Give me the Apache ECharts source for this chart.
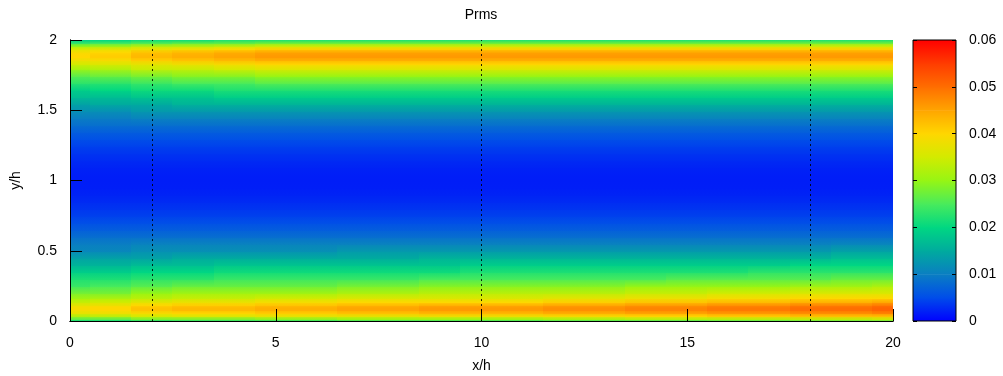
<!DOCTYPE html>
<html>
<head>
<meta charset="utf-8">
<script src="https://cdn.jsdelivr.net/npm/echarts@6/dist/echarts.min.js"></script>
<style>html,body{margin:0;padding:0;background:#fff;}#chart{width:1003px;height:376px;}</style>
</head>
<body>
<div id="chart"></div>
<script>
// ---- data ----
const xStations = [0, 1, 2, 3, 4, 5, 6, 7, 8, 9, 10, 11, 12, 13, 14, 15, 16, 17, 18, 19, 20];
const yLevelsLow  = [0, 0.02, 0.04, 0.06, 0.08, 0.10, 0.12, 0.14, 0.17, 0.20, 0.25, 0.30, 0.35, 0.40, 0.45];
const yLevelsCore = [0.50, 0.55, 0.60, 0.65, 0.70, 0.75, 0.80, 0.85, 0.90, 0.95, 1.00, 1.05, 1.10, 1.15, 1.20, 1.25, 1.30, 1.35, 1.40, 1.45, 1.50];
const yLevelsHigh = [1.55, 1.60, 1.65, 1.70, 1.75, 1.80, 1.83, 1.86, 1.88, 1.90, 1.92, 1.94, 1.96, 1.98, 2.00];

// Prms near the lower wall: one row per yLevelsLow, one value per x station
const prmsLow = [
  [0.020,0.020,0.021,0.022,0.022,0.022,0.022,0.023,0.023,0.023,0.023,0.023,0.024,0.024,0.024,0.024,0.025,0.025,0.026,0.026,0.026],
  [0.026,0.026,0.028,0.028,0.028,0.029,0.029,0.030,0.030,0.030,0.030,0.030,0.031,0.031,0.032,0.032,0.032,0.032,0.033,0.033,0.034],
  [0.032,0.033,0.035,0.036,0.036,0.037,0.037,0.037,0.037,0.038,0.038,0.038,0.039,0.039,0.040,0.040,0.041,0.041,0.042,0.042,0.042],
  [0.037,0.038,0.039,0.040,0.040,0.041,0.041,0.042,0.042,0.043,0.043,0.043,0.044,0.044,0.045,0.045,0.046,0.046,0.047,0.047,0.048],
  [0.039,0.040,0.042,0.043,0.043,0.044,0.044,0.045,0.045,0.046,0.046,0.046,0.047,0.047,0.048,0.048,0.049,0.049,0.050,0.050,0.051],
  [0.039,0.040,0.042,0.043,0.043,0.044,0.044,0.045,0.045,0.046,0.046,0.046,0.047,0.047,0.048,0.048,0.049,0.049,0.050,0.050,0.051],
  [0.037,0.038,0.040,0.041,0.041,0.042,0.042,0.043,0.043,0.044,0.044,0.044,0.045,0.045,0.046,0.046,0.047,0.047,0.048,0.048,0.049],
  [0.034,0.035,0.037,0.038,0.038,0.039,0.039,0.040,0.040,0.040,0.040,0.040,0.041,0.041,0.042,0.042,0.043,0.043,0.044,0.044,0.045],
  [0.031,0.032,0.033,0.034,0.034,0.035,0.035,0.036,0.036,0.036,0.036,0.036,0.037,0.037,0.038,0.038,0.039,0.039,0.040,0.040,0.040],
  [0.028,0.028,0.030,0.031,0.031,0.031,0.031,0.032,0.032,0.033,0.033,0.033,0.033,0.033,0.034,0.034,0.035,0.035,0.036,0.036,0.036],
  [0.024,0.025,0.026,0.027,0.027,0.027,0.027,0.028,0.028,0.029,0.029,0.029,0.029,0.029,0.030,0.030,0.030,0.030,0.031,0.031,0.032],
  [0.022,0.022,0.023,0.023,0.024,0.024,0.024,0.024,0.024,0.025,0.025,0.025,0.025,0.025,0.025,0.026,0.026,0.026,0.026,0.027,0.027],
  [0.019,0.019,0.020,0.020,0.021,0.021,0.021,0.021,0.021,0.021,0.022,0.022,0.022,0.022,0.022,0.022,0.022,0.023,0.023,0.023,0.023],
  [0.016,0.016,0.017,0.017,0.018,0.018,0.018,0.018,0.018,0.018,0.019,0.019,0.019,0.019,0.019,0.019,0.019,0.019,0.020,0.020,0.020],
  [0.014,0.014,0.014,0.015,0.015,0.015,0.015,0.015,0.015,0.016,0.016,0.016,0.016,0.016,0.016,0.016,0.016,0.016,0.016,0.017,0.017]
];
// Prms in the channel core: one row per yLevelsCore
const prmsCore = [
  [0.011,0.011,0.012,0.012,0.012,0.012,0.012,0.013,0.013,0.013,0.013,0.013,0.013,0.013,0.013,0.013,0.013,0.013,0.013,0.014,0.014],
  [0.0100,0.0100,0.0105,0.0105,0.0105,0.0105,0.0105,0.0105,0.0105,0.0105,0.0105,0.0105,0.0105,0.0105,0.0105,0.0105,0.0105,0.0105,0.0105,0.0110,0.0110],
  [0.0085,0.0085,0.0085,0.0085,0.0085,0.0085,0.0085,0.0085,0.0085,0.0085,0.0085,0.0085,0.0085,0.0085,0.0085,0.0085,0.0085,0.0085,0.0085,0.0085,0.0085],
  [0.0068,0.0068,0.0068,0.0068,0.0068,0.0068,0.0068,0.0068,0.0068,0.0068,0.0068,0.0068,0.0068,0.0068,0.0068,0.0068,0.0068,0.0068,0.0068,0.0068,0.0068],
  [0.0054,0.0054,0.0054,0.0054,0.0054,0.0054,0.0054,0.0054,0.0054,0.0054,0.0054,0.0054,0.0054,0.0054,0.0054,0.0054,0.0054,0.0054,0.0054,0.0054,0.0054],
  [0.0043,0.0043,0.0043,0.0043,0.0043,0.0043,0.0043,0.0043,0.0043,0.0043,0.0043,0.0043,0.0043,0.0043,0.0043,0.0043,0.0043,0.0043,0.0043,0.0043,0.0043],
  [0.0035,0.0035,0.0035,0.0035,0.0035,0.0035,0.0035,0.0035,0.0035,0.0035,0.0035,0.0035,0.0035,0.0035,0.0035,0.0035,0.0035,0.0035,0.0035,0.0035,0.0035],
  [0.0028,0.0028,0.0028,0.0028,0.0028,0.0028,0.0028,0.0028,0.0028,0.0028,0.0028,0.0028,0.0028,0.0028,0.0028,0.0028,0.0028,0.0028,0.0028,0.0028,0.0028],
  [0.0023,0.0023,0.0023,0.0023,0.0023,0.0023,0.0023,0.0023,0.0023,0.0023,0.0023,0.0023,0.0023,0.0023,0.0023,0.0023,0.0023,0.0023,0.0023,0.0023,0.0023],
  [0.0020,0.0020,0.0020,0.0020,0.0020,0.0020,0.0020,0.0020,0.0020,0.0020,0.0020,0.0020,0.0020,0.0020,0.0020,0.0020,0.0020,0.0020,0.0020,0.0020,0.0020],
  [0.0019,0.0019,0.0019,0.0019,0.0019,0.0019,0.0019,0.0019,0.0019,0.0019,0.0019,0.0019,0.0019,0.0019,0.0019,0.0019,0.0019,0.0019,0.0019,0.0019,0.0019],
  [0.0020,0.0020,0.0020,0.0020,0.0020,0.0020,0.0020,0.0020,0.0020,0.0020,0.0020,0.0020,0.0020,0.0020,0.0020,0.0020,0.0020,0.0020,0.0020,0.0020,0.0020],
  [0.0023,0.0023,0.0023,0.0023,0.0023,0.0023,0.0023,0.0023,0.0023,0.0023,0.0023,0.0023,0.0023,0.0023,0.0023,0.0023,0.0023,0.0023,0.0023,0.0023,0.0023],
  [0.0028,0.0028,0.0028,0.0028,0.0028,0.0028,0.0028,0.0028,0.0028,0.0028,0.0028,0.0028,0.0028,0.0028,0.0028,0.0028,0.0028,0.0028,0.0028,0.0028,0.0028],
  [0.0035,0.0035,0.0035,0.0035,0.0035,0.0035,0.0035,0.0035,0.0035,0.0035,0.0035,0.0035,0.0035,0.0035,0.0035,0.0035,0.0035,0.0035,0.0035,0.0035,0.0035],
  [0.0043,0.0043,0.0043,0.0043,0.0043,0.0043,0.0043,0.0043,0.0043,0.0043,0.0043,0.0043,0.0043,0.0043,0.0043,0.0043,0.0043,0.0043,0.0043,0.0043,0.0043],
  [0.0054,0.0054,0.0054,0.0054,0.0054,0.0054,0.0054,0.0054,0.0054,0.0054,0.0054,0.0054,0.0054,0.0054,0.0054,0.0054,0.0054,0.0054,0.0054,0.0054,0.0054],
  [0.0068,0.0068,0.0068,0.0068,0.0068,0.0068,0.0068,0.0068,0.0068,0.0068,0.0068,0.0068,0.0068,0.0068,0.0068,0.0068,0.0068,0.0068,0.0068,0.0068,0.0068],
  [0.0085,0.0085,0.0085,0.0085,0.0085,0.0085,0.0085,0.0085,0.0085,0.0085,0.0085,0.0085,0.0085,0.0085,0.0085,0.0085,0.0085,0.0085,0.0085,0.0085,0.0085],
  [0.0100,0.0100,0.0105,0.0105,0.0105,0.0105,0.0105,0.0105,0.0105,0.0105,0.0105,0.0105,0.0105,0.0105,0.0105,0.0105,0.0105,0.0105,0.0105,0.0105,0.0105],
  [0.012,0.012,0.013,0.013,0.013,0.013,0.013,0.013,0.013,0.013,0.013,0.013,0.013,0.013,0.013,0.013,0.013,0.013,0.013,0.013,0.013]
];
// Prms near the upper wall: one row per yLevelsHigh
const prmsHigh = [
  [0.014,0.015,0.015,0.016,0.016,0.016,0.016,0.016,0.016,0.016,0.016,0.016,0.016,0.016,0.016,0.016,0.016,0.016,0.016,0.016,0.016],
  [0.017,0.017,0.018,0.018,0.019,0.019,0.019,0.019,0.019,0.019,0.019,0.019,0.019,0.019,0.019,0.019,0.019,0.019,0.019,0.019,0.019],
  [0.019,0.020,0.021,0.021,0.022,0.022,0.022,0.022,0.022,0.022,0.022,0.022,0.022,0.022,0.022,0.022,0.022,0.022,0.022,0.022,0.022],
  [0.023,0.023,0.024,0.025,0.025,0.026,0.026,0.026,0.026,0.026,0.026,0.026,0.026,0.026,0.026,0.026,0.026,0.026,0.026,0.026,0.026],
  [0.026,0.027,0.028,0.029,0.029,0.030,0.030,0.030,0.030,0.030,0.030,0.030,0.030,0.030,0.030,0.030,0.030,0.030,0.030,0.030,0.030],
  [0.031,0.032,0.034,0.034,0.035,0.036,0.036,0.036,0.036,0.036,0.036,0.036,0.036,0.036,0.036,0.036,0.036,0.036,0.036,0.036,0.036],
  [0.035,0.036,0.037,0.038,0.039,0.040,0.040,0.040,0.040,0.040,0.040,0.040,0.040,0.040,0.040,0.040,0.040,0.040,0.040,0.040,0.040],
  [0.038,0.039,0.041,0.042,0.043,0.044,0.044,0.044,0.044,0.044,0.044,0.044,0.044,0.044,0.044,0.044,0.044,0.044,0.044,0.044,0.044],
  [0.040,0.041,0.043,0.044,0.045,0.046,0.046,0.046,0.046,0.046,0.046,0.046,0.046,0.046,0.046,0.046,0.046,0.046,0.046,0.046,0.046],
  [0.040,0.041,0.043,0.044,0.045,0.046,0.046,0.046,0.046,0.046,0.046,0.046,0.046,0.046,0.046,0.046,0.046,0.046,0.046,0.046,0.046],
  [0.039,0.040,0.042,0.043,0.044,0.045,0.045,0.045,0.045,0.045,0.045,0.045,0.045,0.045,0.045,0.045,0.045,0.045,0.045,0.045,0.045],
  [0.036,0.037,0.038,0.039,0.040,0.041,0.041,0.041,0.041,0.041,0.041,0.041,0.041,0.041,0.041,0.041,0.041,0.041,0.041,0.041,0.041],
  [0.030,0.031,0.033,0.033,0.034,0.035,0.035,0.035,0.035,0.035,0.035,0.035,0.035,0.035,0.035,0.035,0.035,0.035,0.035,0.035,0.035],
  [0.024,0.025,0.026,0.027,0.027,0.028,0.028,0.028,0.028,0.028,0.028,0.028,0.028,0.028,0.028,0.028,0.028,0.028,0.028,0.028,0.028],
  [0.019,0.020,0.021,0.021,0.022,0.022,0.022,0.022,0.022,0.022,0.022,0.022,0.022,0.022,0.022,0.022,0.022,0.022,0.022,0.022,0.022]
];
const dottedX = [2, 10, 18];
const paletteLevels = [0, 0.005, 0.01, 0.015, 0.02, 0.025, 0.03, 0.035, 0.04, 0.045, 0.05, 0.055, 0.06];
const paletteColors = ['#0000ff', '#004cea', '#0a7ec2', '#00ab9e', '#00d782', '#48eb5c', '#96f514', '#d2eb00', '#ffd700', '#ffa500', '#ff6e00', '#ff3c00', '#ff0000'];
const titleText = 'Prms';
const xName = 'x/h', yName = 'y/h';

// ---- helpers ----
function hexToRgb(h) { return [parseInt(h.slice(1,3),16), parseInt(h.slice(3,5),16), parseInt(h.slice(5,7),16)]; }
const paletteRgb = paletteColors.map(hexToRgb);
function colorOf(v) {
  const lo = paletteLevels[0], hi = paletteLevels[paletteLevels.length - 1];
  if (v <= lo) return paletteColors[0];
  if (v >= hi) return paletteColors[paletteColors.length - 1];
  let k = 0;
  while (k < paletteLevels.length - 2 && v > paletteLevels[k + 1]) k++;
  const t = (v - paletteLevels[k]) / (paletteLevels[k + 1] - paletteLevels[k]);
  const a = paletteRgb[k], b = paletteRgb[k + 1];
  return 'rgb(' + a.map((c, i) => Math.round(c + (b[i] - c) * t)).join(',') + ')';
}

const yLevels = yLevelsLow.concat(yLevelsCore, yLevelsHigh);
const rows = prmsLow.concat(prmsCore, prmsHigh);
const cells = [];
for (let i = 0; i < yLevels.length - 1; i++) {
  for (let j = 0; j < xStations.length; j++) {
    const xLo = j === 0 ? xStations[0] : (xStations[j - 1] + xStations[j]) / 2;
    const xHi = j === xStations.length - 1 ? xStations[j] : (xStations[j] + xStations[j + 1]) / 2;
    cells.push([xLo, xHi, yLevels[i], yLevels[i + 1], rows[i][j], rows[i + 1][j]]);
  }
}
const cbSegments = [];
for (let k = 0; k < paletteLevels.length - 1; k++) {
  cbSegments.push([0, 1, paletteLevels[k], paletteLevels[k + 1], k]);
}

const font = 'Liberation Sans, Arial, Helvetica, sans-serif';
const txt = { color: '#000', fontSize: 14, fontFamily: font };

const chart = echarts.init(document.getElementById('chart'), null, { renderer: 'canvas' });
const X0 = { type: 'value', min: 0, max: 20, interval: 5, gridIndex: 0, z: 10, splitLine: { show: false } };
const Y0 = { type: 'value', min: 0, max: 2, interval: 0.5, gridIndex: 0, z: 10, splitLine: { show: false } };
const YC = { type: 'value', min: 0, max: 0.06, interval: 0.01, gridIndex: 1, z: 10, splitLine: { show: false } };
const noLine = { show: false }, noTick = { show: false }, noLabel = { show: false };
const blackLine = { show: true, lineStyle: { color: '#000', width: 1 } };
// "inside" ticks: axes shifted into the plot by their tick length, ticks pointing back to the frame
function tickAxis(base, pos, len) {
  return Object.assign({}, base, {
    position: pos, offset: -len, axisLine: noLine, axisLabel: noLabel,
    axisTick: { show: true, length: len, lineStyle: { color: '#000', width: 1 } }
  });
}

chart.setOption({
  animation: false,
  backgroundColor: '#fff',
  title: {
    text: titleText, left: 481, top: 8, padding: 0, textAlign: 'center',
    textStyle: { color: '#000', fontSize: 14, fontWeight: 'normal', fontFamily: font }
  },
  grid: [
    { left: 70, top: 40, width: 823, height: 281, show: false, outerBoundsMode: 'none', containLabel: false },
    { left: 913, top: 40, width: 43, height: 281, show: true, borderColor: '#000', borderWidth: 1, z: 10,
      backgroundColor: 'transparent', outerBoundsMode: 'none', containLabel: false }
  ],
  xAxis: [
    Object.assign({}, X0, {
      position: 'bottom', axisLine: blackLine, axisTick: noTick,
      axisLabel: Object.assign({ margin: 15 }, txt),
      name: xName, nameLocation: 'middle', nameGap: 38, nameTextStyle: txt
    }),
    Object.assign({}, X0, { position: 'top', axisLine: blackLine, axisTick: noTick, axisLabel: noLabel }),
    tickAxis(X0, 'bottom', 6),
    tickAxis(X0, 'top', 6),
    { type: 'value', min: 0, max: 1, gridIndex: 1, show: false }
  ],
  yAxis: [
    Object.assign({}, Y0, {
      position: 'left', axisLine: blackLine, axisTick: noTick,
      axisLabel: Object.assign({ margin: 13 }, txt),
      name: yName, nameLocation: 'middle', nameGap: 47, nameTextStyle: txt
    }),
    Object.assign({}, Y0, { position: 'right', axisLine: blackLine, axisTick: noTick, axisLabel: noLabel }),
    tickAxis(Y0, 'left', 6),
    tickAxis(Y0, 'right', 6),
    Object.assign({}, YC, {
      position: 'right', axisLine: noLine, axisTick: noTick,
      axisLabel: Object.assign({ margin: 13 }, txt)
    }),
    tickAxis(YC, 'right', 4),
    tickAxis(YC, 'left', 4)
  ],
  series: [
    {
      type: 'custom', xAxisIndex: 0, yAxisIndex: 0, clip: true, z: 2,
      encode: { x: [0, 1], y: [2, 3] },
      data: cells,
      renderItem: function (params, api) {
        const p0 = api.coord([api.value(0), api.value(2)]);
        const p1 = api.coord([api.value(1), api.value(3)]);
        const x0 = Math.floor(p0[0]), x1 = Math.ceil(p1[0]);
        const yT = Math.floor(p1[1]), yB = Math.ceil(p0[1]);
        return {
          type: 'rect',
          shape: { x: x0, y: yT, width: x1 - x0 + 1, height: yB - yT + 1 },
          style: {
            fill: new echarts.graphic.LinearGradient(0, 1, 0, 0, [
              { offset: 0, color: colorOf(api.value(4)) },
              { offset: 1, color: colorOf(api.value(5)) }
            ])
          }
        };
      },
      markLine: {
        silent: true, symbol: ['none', 'none'], label: { show: false }, z: 5,
        lineStyle: { color: '#000', width: 1, type: [2, 3], opacity: 0.85 },
        data: dottedX.map(v => ({ xAxis: v }))
      }
    },
    {
      type: 'custom', xAxisIndex: 4, yAxisIndex: 4, clip: true, z: 2,
      encode: { x: [0, 1], y: [2, 3] },
      data: cbSegments,
      renderItem: function (params, api) {
        const p0 = api.coord([api.value(0), api.value(2)]);
        const p1 = api.coord([api.value(1), api.value(3)]);
        const k = api.value(4);
        return {
          type: 'rect',
          shape: { x: p0[0], y: p1[1], width: p1[0] - p0[0], height: p0[1] - p1[1] + 0.6 },
          style: {
            fill: new echarts.graphic.LinearGradient(0, 1, 0, 0, [
              { offset: 0, color: paletteColors[k] },
              { offset: 1, color: paletteColors[k + 1] }
            ])
          }
        };
      }
    }
  ]
});
</script>
</body>
</html>
